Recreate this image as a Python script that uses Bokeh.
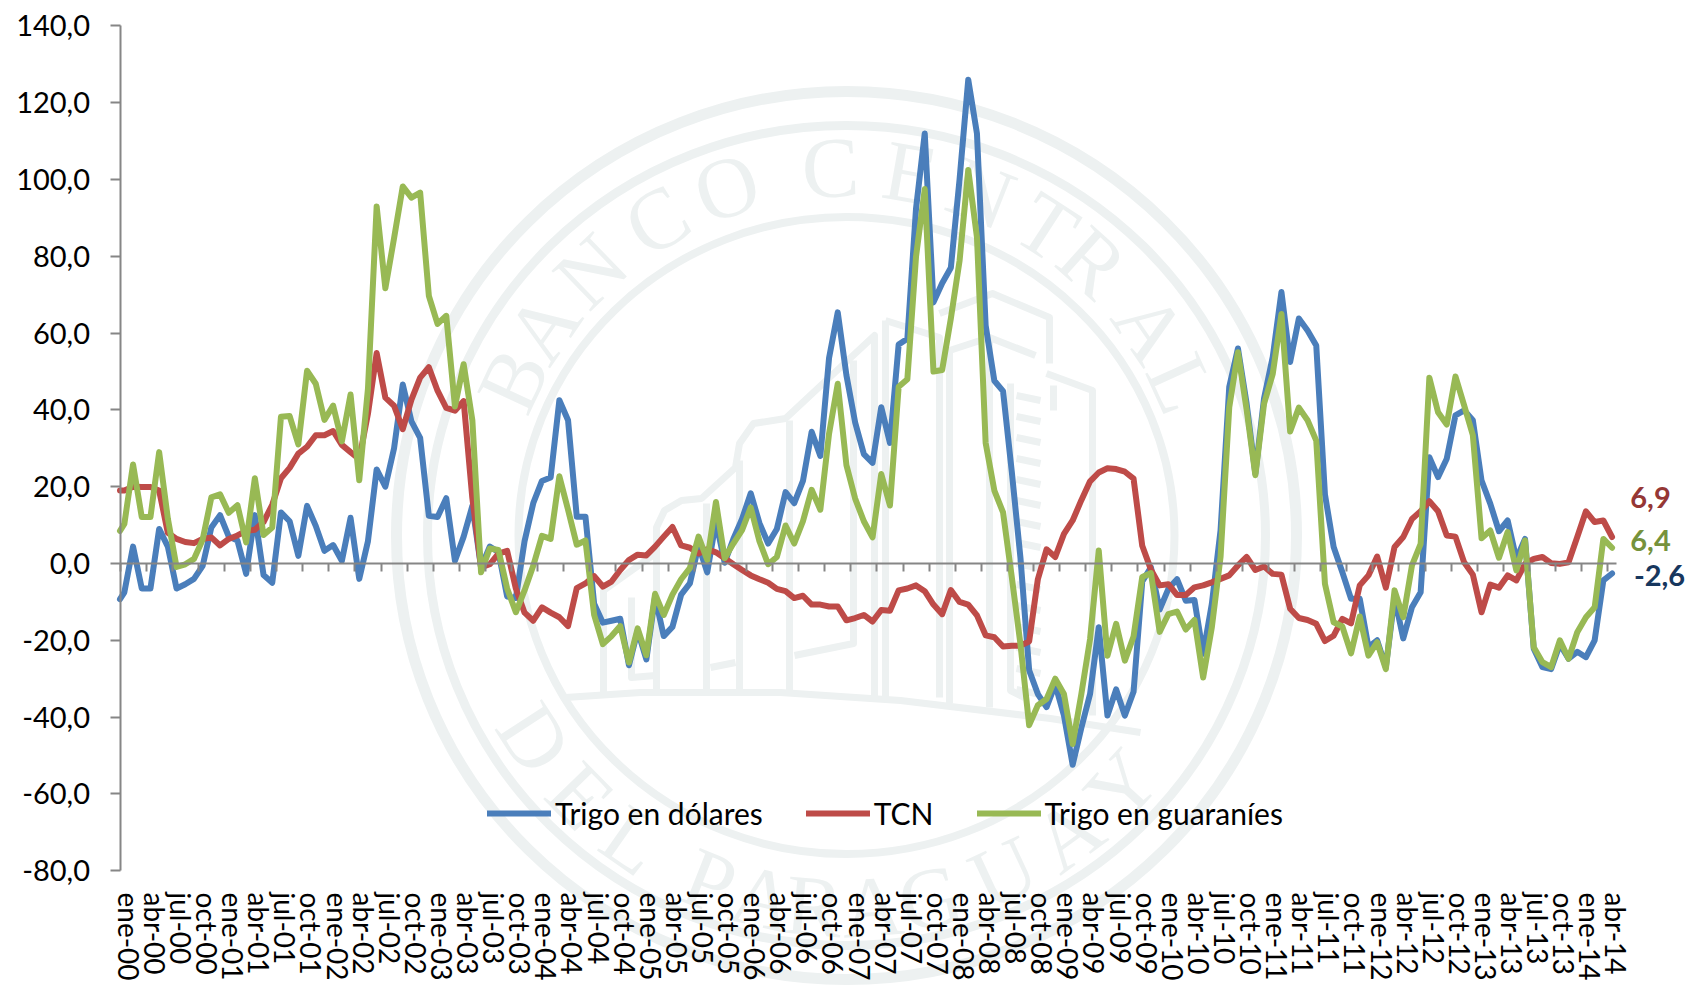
import math
from bokeh.embed import file_html
from bokeh.resources import INLINE
from bokeh.core.properties import value
from bokeh.models import FixedTicker, Legend, LegendItem, LinearAxis, Range1d
from bokeh.plotting import figure

# ---------- data ----------
meses = [-0.5] + list(range(172))
trigo_dolares = [-9.3,
 -7.5, 4.4, -6.5, -6.5, 9, 4.4, -6.5, -5.4, -4, -0.6,
 9.4, 12.6, 7, 6, -2.7, 12.6, -3, -5, 13.3, 11,
 2, 15, 9.8, 3.3, 4.8, 0.7, 11.9, -4, 5.8, 24.5,
 20, 30, 46.6, 37, 32.7, 12.4, 12.1, 17, 0.7, 7,
 15, -1, 4.4, 3, -8.6, -9, 5.8, 15.7, 21.5, 22.4,
 42.5, 37.3, 12.2, 12.2, -10.5, -15.4, -14.9, -14.4, -26.5, -17.5,
 -25, -8.7, -18.9, -16.5, -8.1, -5.2, 4.7, -2.3, 11, 0.2,
 6.4, 11.6, 18.3, 10.5, 5.2, 9, 18.6, 15.7, 21.5, 34.3,
 28, 53.5, 65.4, 49, 36.7, 28.5, 26.2, 40.7, 31.4, 57,
 58.5, 92.5, 112, 68, 73, 77, 100, 126, 112, 62,
 47.6, 44.9, 24, 1.5, -27.8, -34, -37.4, -31.5, -39.6, -52.4,
 -42.8, -34, -16.6, -39.6, -32.8, -39.6, -33.4, -4.7, -1, -12,
 -6.6, -4.1, -9.7, -9.5, -23.5, -10.5, 8.6, 46, 56, 41.6,
 23.4, 43, 53.8, 70.7, 52.5, 63.8, 60.7, 56.8, 18, 4.3,
 -2.3, -9.2, -9.2, -21.8, -20, -27, -8.8, -19.5, -11.4, -7.5,
 27.7, 22.5, 27.3, 38.6, 39.9, 37.3, 21.6, 15.6, 8.4, 11.2,
 1.2, 6.4, -22.2, -27, -27.5, -21, -24.8, -23, -24.4, -20,
 -4.4, -2.6]
tcn = [19,
 19, 20, 19.9, 19.9, 19, 8, 6.4, 5.6, 5.3, 6.4,
 6.8, 4.7, 6.4, 7.3, 8.5, 8.8, 10.8, 15.3, 22.2, 24.9,
 28.6, 30.4, 33.4, 33.4, 34.5, 30.9, 29, 27.2, 39, 54.8,
 43.2, 41.1, 35, 42.7, 48.4, 51.1, 45, 40.5, 39.8, 42.3,
 17, -1, -0.2, 2.6, 3.3, -6.5, -12.8, -14.9, -11.4, -12.8,
 -14, -16.3, -6.4, -5.2, -3.3, -6, -4.7, -1.7, 0.9, 2.3,
 2.1, 4.4, 7, 9.5, 4.7, 4.1, 2.6, 3.7, 2.9, 1.4,
 -0.2, -1.7, -3.1, -4.1, -5, -6.6, -7.2, -9, -8.4, -10.7,
 -10.7, -11.2, -11.2, -14.8, -14.2, -13.4, -15.1, -12.1, -12.3, -7,
 -6.5, -5.7, -7.2, -10.7, -13.2, -6.9, -10, -10.7, -13.5, -18.7,
 -19.2, -21.6, -21.4, -21.4, -20.3, -4.1, 3.7, 1.7, 7.7, 11.2,
 16.5, 21.4, 23.7, 24.8, 24.6, 23.9, 22.1, 4.6, -1.6, -5.7,
 -5.4, -8.2, -8.2, -6.2, -5.7, -4.9, -4, -3.1, -0.5, 1.7,
 -1.7, -0.8, -2.7, -2.9, -11.8, -14.2, -14.7, -15.7, -20.2, -18.8,
 -14.4, -15.6, -5.7, -3.1, 1.8, -6.3, 4.3, 6.9, 11.6, 13.6,
 16.2, 13.6, 7.3, 7, 0.3, -2.9, -12.7, -5.5, -6.3, -3.1,
 -4.4, -0.1, 1.2, 1.7, 0.1, -0.1, 0.3, 6.9, 13.6, 10.8,
 11.2, 6.9]
trigo_guaranies = [8.5,
 10.3, 25.8, 12.1, 12.1, 29, 11.7, -0.9, -0.2, 1.2, 6.2,
 17.2, 18, 13.2, 15.2, 5.5, 22.2, 7.4, 9.4, 38.2, 38.4,
 31, 50.2, 46.8, 37.4, 41.1, 31.8, 44, 21.7, 45.5, 93,
 71.7, 84.7, 98.2, 95.3, 96.6, 69.7, 62.4, 64.5, 40.9, 51.9,
 37.3, -2.3, 3.9, 3.5, -6.5, -12.7, -7, -0.6, 7.2, 6.4,
 22.7, 14, 4.9, 6, -13.4, -21, -18.9, -16.3, -25.8, -16.9,
 -23.9, -7.9, -13.4, -8.1, -4.1, -1.2, 7, 0.9, 16, 1.4,
 5.2, 8.7, 14.6, 5.8, -0.2, 1.7, 9.9, 5.2, 11, 19.2,
 14, 33.8, 46.8, 25.6, 16.9, 11, 6.8, 23.3, 15.1, 46,
 48, 80, 97.5, 50, 50.4, 63.8, 78.8, 102.5, 85, 31.4,
 19, 13.3, -3.5, -21, -42.1, -36.9, -35.3, -30, -34, -47,
 -34, -19.7, 3.4, -24, -15.7, -25.3, -19, -3.5, -2.5, -17.8,
 -13.2, -12.5, -17.2, -14.7, -29.7, -16.6, 1.7, 40.7, 55, 40,
 23, 41.6, 49.4, 65, 34.4, 40.6, 37.3, 32, -5.3, -15.3,
 -16.4, -23.4, -13.8, -24, -20.5, -27.5, -7, -14, -0.5, 5.1,
 48.4, 39.4, 36.2, 48.7, 41.2, 33.4, 6.6, 8.6, 1.5, 8.2,
 -1.8, 6, -21.8, -25.7, -27, -20, -24.8, -17.9, -14, -11.4,
 6.4, 4.1]

meses_nombre = ["ene", "abr", "jul", "oct"]
anios = ["00","01","02","03","04","05","06","07","08","09","10","11","12","13","14"]
etiquetas_x = [f"{m}-{a}" for a in anios for m in meses_nombre][:58]
ticks_y = [-80, -60, -40, -20, 0, 20, 40, 60, 80, 100, 120, 140]
etiquetas_y = [f"{t},0" for t in ticks_y]
nombres_serie = ["Trigo en dólares", "TCN", "Trigo en guaraníes"]
finales = ["6,9", "6,4", "-2,6"]

AZUL, ROJO, VERDE = "#4a7ebb", "#be4b48", "#98b954"
GRIS = "#868686"
SELLO = "#edf1f1"
FUENTE = "Lato"

# ---------- geometry (picture pixels -> data) ----------
W, H = 1691, 988
PX0, PY0 = 0, 0
def fx_to_i(fx): return (fx - 123.85) / 8.7
def fy_to_v(fy): return (563.0 - fy) / 3.84

p = figure(width=W, height=H, output_backend="svg", toolbar_location=None,
           x_range=Range1d(fx_to_i(PX0), fx_to_i(PX0 + W)),
           y_range=Range1d(fy_to_v(PY0 + H), fy_to_v(PY0)),
           x_axis_type=None, y_axis_type=None,
           min_border=0, min_border_left=0, min_border_right=0,
           min_border_top=0, min_border_bottom=0, outline_line_color=None)
p.grid.visible = False
p.background_fill_color = "white"
p.extra_x_ranges = {"px": Range1d(PX0, PX0 + W)}
p.extra_y_ranges = {"px": Range1d(PY0 + H, PY0)}
PXR = dict(x_range_name="px", y_range_name="px")

# ---------- watermark seal ----------
CX, CY = 846, 535
p.ellipse([CX]*3, [CY]*3, width=[900, 838, 656], height=[888, 820, 637],
          fill_color=None, line_color=SELLO, line_width=[11, 9, 8], **PXR)

sello_arriba = "BANCO CENTRAL"
ang_arriba = [-65, -55.5, -44, -31, -19, None, -2.5, 10, 21.5, 33, 42, 55.6, 65.6]
for ch, a in zip(sello_arriba, ang_arriba):
    if a is None: continue
    r = math.radians(a)
    p.text([CX + 368*math.sin(r)], [CY - 368*math.cos(r)], text=[ch], angle=-r,
           text_font=value("Liberation Serif"), text_font_size="86px", text_color=SELLO,
           text_align="center", text_baseline="middle", **PXR)
sello_abajo = "DEL PARAGUAY"
ang_abajo = [-57, -45.6, -35, None, -21.6, -13, -5, 4, 13, 25, 36.5, 47.7]
for ch, a in zip(sello_abajo, ang_abajo):
    if a is None: continue
    r = math.radians(a)
    p.text([CX + 372*math.sin(r)], [CY + 372*math.cos(r)], text=[ch], angle=r,
           text_font=value("Liberation Serif"), text_font_size="86px", text_color=SELLO,
           text_align="center", text_baseline="middle", **PXR)

edificio = [
 [(603,693),(603,590),(655,553)],
 [(656,693),(656,527),(664,510),(681,500),(701,498),(735,467),(739,443),(753,423),(785,418),(874,335),(874,697)],
 [(706,503),(706,693)], [(739,460),(739,693)], [(789,420),(789,693)],
 [(853,360),(853,643),(794,655)], [(710,667),(735,662)],
 [(885,320),(885,697)], [(885,320),(939,337),(939,697)],
 [(949,347),(949,703)], [(939,313),(992,293),(1049,317),(1049,363)],
 [(949,350),(989,337),(1035,355)], [(989,337),(989,707)],
 [(1046,373),(1092,390),(1092,715)], [(1053,385),(1053,410)],
 [(1010,383),(1010,690),(1024,697)], [(631,597),(631,677),(655,675)],
 [(565,697),(640,692),(780,692),(900,700),(1050,718),(1140,732)],
]
p.multi_line([[a for a, _ in s] for s in edificio], [[b for _, b in s] for s in edificio],
             line_color=SELLO, line_width=7, line_join="round", **PXR)
peldanos = list(range(395, 690, 21))
p.segment([1016]*len(peldanos), peldanos, [1040]*len(peldanos), [y + 5 for y in peldanos],
          line_color=SELLO, line_width=7, **PXR)

# ---------- axes ----------
eje_y = LinearAxis(fixed_location=-0.5, bounds=(-80, 140),
                   ticker=FixedTicker(ticks=ticks_y),
                   major_label_overrides=dict(zip(ticks_y, etiquetas_y)),
                   axis_line_color=GRIS, axis_line_width=2,
                   major_tick_line_color=GRIS, major_tick_line_width=2,
                   major_tick_in=0, major_tick_out=10, minor_tick_out=0, minor_tick_in=0,
                   major_label_text_font=FUENTE, major_label_text_font_size="29px",
                   major_label_text_color="#000000", major_label_standoff=20)
p.add_layout(eje_y, "left")

ticks_x = [-0.5 + 3*k for k in range(58)]
eje_x = LinearAxis(fixed_location=0, bounds=(-0.5, 171.5),
                   ticker=FixedTicker(ticks=ticks_x),
                   major_label_overrides={t: "" for t in ticks_x},
                   axis_line_color=GRIS, axis_line_width=2,
                   major_tick_line_color=GRIS, major_tick_line_width=2,
                   major_tick_in=0, major_tick_out=8, minor_tick_out=0, minor_tick_in=0)
p.add_layout(eje_x, "below")

pos_x = [0.5 + 3*k for k in range(58)]
eje_etq = LinearAxis(fixed_location=fy_to_v(892),
                     ticker=FixedTicker(ticks=pos_x),
                     major_label_overrides=dict(zip(pos_x, etiquetas_x)),
                     axis_line_color=None, major_tick_line_color=None, minor_tick_line_color=None,
                     major_tick_in=0, major_tick_out=0, minor_tick_out=0, minor_tick_in=0,
                     major_label_orientation="vertical", major_label_standoff=0,
                     major_label_text_font=FUENTE, major_label_text_font_size="28px",
                     major_label_text_color="#000000")
p.add_layout(eje_etq, "below")

# ---------- series ----------
estilo = dict(line_width=6, line_join="round", line_cap="round")
r1 = p.line(meses, trigo_dolares, line_color=AZUL, **estilo)
r2 = p.line(meses, tcn, line_color=ROJO, **estilo)
r3 = p.line(meses, trigo_guaranies, line_color=VERDE, **estilo)

# ---------- end labels ----------
for txt, col, xp, yp in zip(finales, ["#953735", "#76923c", "#17375e"], [1650, 1650, 1659], [497, 540, 575]):
    p.text([xp], [yp], text=[txt], text_color=col, text_font=value(FUENTE), text_font_size="29px",
           text_font_style="bold", text_align="center", text_baseline="middle", **PXR)

# ---------- legend ----------
ley = Legend(items=[LegendItem(label=n, renderers=[r]) for n, r in zip(nombres_serie, [r1, r2, r3])],
             orientation="horizontal", location=(487, 157), border_line_color=None,
             background_fill_alpha=0, margin=0, padding=0, spacing=43, label_standoff=4,
             glyph_width=64, glyph_height=30, label_text_font=FUENTE, label_text_font_size="30px",
             label_text_color="#000000", label_height=30)
p.add_layout(ley, "center")

open("out.html", "w").write(file_html(p, INLINE))
